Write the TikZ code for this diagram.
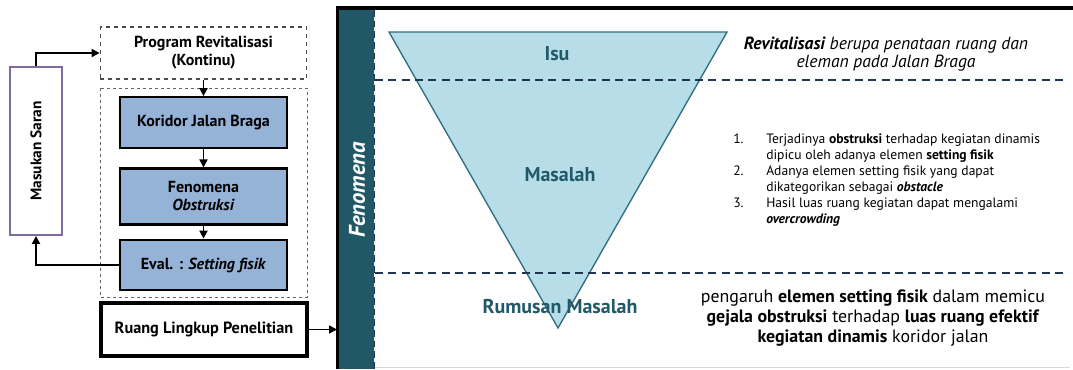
\documentclass[tikz,border=0pt]{standalone}
\usepackage{fontspec}
\setmainfont{PT Sans}
\usetikzlibrary{arrows.meta}
\definecolor{boxblue}{HTML}{95B3D7}
\definecolor{barteal}{HTML}{215868}
\definecolor{trifill}{HTML}{B7DEE8}
\definecolor{tristroke}{HTML}{2E6E7E}
\definecolor{tritext}{HTML}{215968}
\definecolor{navy}{HTML}{1F3450}
\definecolor{purp}{HTML}{7F6A9E}
\tikzset{
  flowbox/.style={draw=black, line width=1.6pt, fill=boxblue, minimum width=125pt, font=\bfseries\fontsize{12}{13.5}\selectfont, align=center, inner sep=1pt},
  arr/.style={line width=1.3pt, -{Triangle[length=6pt,width=6pt]}},
  tlabel/.style={text=tritext, font=\bfseries\fontsize{15}{17}\selectfont},
  sepline/.style={navy, line width=1.4pt, dash pattern=on 6pt off 4pt},
}
\begin{document}
\begin{tikzpicture}[x=0.75pt,y=-0.75pt]
\useasboundingbox (0,0) rectangle (1073,369);
% left flow
\node[draw=black!70, dashed, line width=0.8pt, minimum width=155pt, minimum height=39pt, align=center, font=\bfseries\fontsize{12}{13.5}\selectfont] (prog) at (203.5,53) {Program Revitalisasi\\(Kontinu)};
\draw[black!60, line width=0.7pt, dash pattern=on 2.5pt off 2pt] (100,88) rectangle (307,297);
\node[flowbox, minimum height=38pt] (kor) at (203.5,122.5) {Koridor Jalan Braga};
\node[flowbox, minimum height=42pt] (fen) at (203.5,196.5) {Fenomena\\\textit{Obstruksi}};
\node[flowbox, minimum height=38pt] (eval) at (203.5,265) {Eval. : \textit{Setting fisik}};
\node[draw=black, line width=3pt, fill=white, minimum width=155pt, minimum height=40pt, font=\bfseries\fontsize{12.2}{14}\selectfont] (ruang) at (204,329.5) {Ruang Lingkup Penelitian};
\node[draw=purp, line width=1.4pt, minimum width=39pt, minimum height=126pt] (mas) at (36,151) {};
\node[rotate=90, font=\bfseries\fontsize{11.5}{13}\selectfont] (mastext) at (mas.center) {Masukan Saran};
\draw[arr] (prog.south) -- (kor.north);
\draw[arr] (kor.south) -- (fen.north);
\draw[arr] (fen.south) -- (eval.north);
\draw[arr] (mas.north) |- (prog.west);
\draw[arr] (eval.west) -| (mas.south);
\coordinate (frameL) at (337,329.5);
\draw[arr] (ruang.east) -- (frameL);
% right frame
\fill[barteal] (339,9) rectangle (374,369);
\draw[line width=2.6pt] (337.5,369) -- (337.5,8) -- (1073,8);
\draw[black!15, line width=0.6pt] (374,367) -- (1070,367);
\draw[navy, line width=1.3pt, dash pattern=on 5pt off 3pt] (374.5,10) -- (374.5,369);
\node[rotate=90, text=white, font=\bfseries\itshape\fontsize{17}{19}\selectfont] (fenom) at (357,190) {Fenomena};
% triangle
\coordinate (tA) at (389,32);
\coordinate (tB) at (727,32);
\coordinate (tC) at (558,328);
\draw[tristroke, fill=trifill, line width=1pt, line join=miter] (tA) -- (tB) -- (tC) -- cycle;
\draw[sepline] (375,80) -- (1068,80);
\draw[sepline] (375,273) -- (1068,273);
\node[tlabel] (isu) at (557,54) {Isu};
\node[tlabel] (masalah) at (560,175) {Masalah};
\node[tlabel] (rumusan) at (560,307) {Rumusan Masalah};
% right texts
\node[align=center, font=\itshape\fontsize{13.2}{13.5}\selectfont] (rev) at (886,54) {\textbf{Revitalisasi} berupa penataan ruang dan\\eleman pada Jalan Braga};
\node[anchor=north west, inner sep=0pt, font=\fontsize{10.2}{12}\selectfont] (list) at (733,132) {%
\begin{tabular}{@{}l@{\hspace{17pt}}l@{}}
1. & Terjadinya \textbf{obstruksi}  terhadap kegiatan dinamis\\
   & dipicu oleh adanya elemen \textbf{setting fisik}\\
2. & Adanya elemen setting fisik yang dapat\\
   & dikategorikan sebagai \textbf{\textit{obstacle}}\\
3. & Hasil luas ruang kegiatan dapat mengalami\\
   & \textbf{\textit{overcrowding}}
\end{tabular}};
\node[align=center, font=\fontsize{13.4}{15}\selectfont] (rum) at (873,318) {pengaruh \textbf{elemen setting fisik} dalam memicu\\\textbf{gejala obstruksi} terhadap \textbf{luas ruang efektif}\\\textbf{kegiatan dinamis} koridor jalan};
\end{tikzpicture}
\end{document}
